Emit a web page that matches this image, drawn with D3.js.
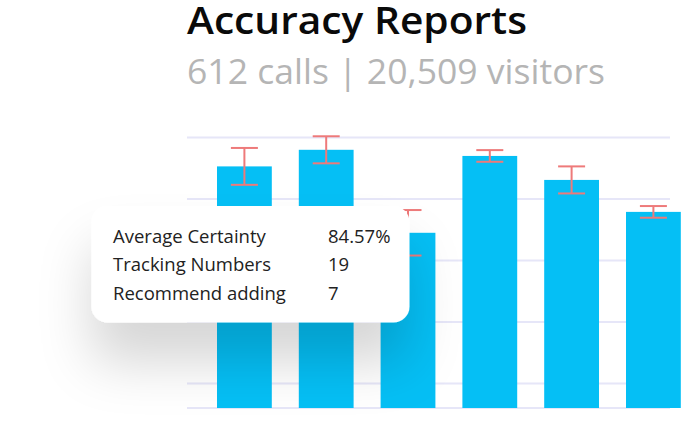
<!DOCTYPE html>
<html>
<head>
<meta charset="utf-8">
<script src="https://cdn.jsdelivr.net/npm/d3@7"></script>
<style>
  html, body { margin: 0; padding: 0; background: #ffffff; }
  svg { display: block; }
  text { font-family: "Open Sans", sans-serif; }
</style>
</head>
<body>
<svg id="chart" width="682" height="445"></svg>
<script>
const title = "Accuracy Reports";
const subtitle = "612 calls | 20,509 visitors";
const categories = ["1", "2", "3", "4", "5", "6"];
const values = [95.3, 98.0, 84.5, 97.0, 93.1, 87.9];
const errors = [3.0, 2.2, 3.7, 0.95, 2.2, 0.95];
const gridTicks = [60, 70, 80, 90, 100];
const tooltipLabels = ["Average Certainty", "Tracking Numbers", "Recommend adding"];
const tooltipValues = ["84.57%", "19", "7"];

const svg = d3.select("#chart");

const defs = svg.append("defs");
const f = defs.append("filter").attr("id", "shadow")
  .attr("x", "-50%").attr("y", "-50%").attr("width", "200%").attr("height", "260%");
f.append("feDropShadow").attr("dx", 0).attr("dy", 40).attr("stdDeviation", 26)
  .attr("flood-color", "#000").attr("flood-opacity", 0.16);

const x = d3.scaleBand().domain(categories).range([190, 707.8]).paddingInner(0.33).paddingOuter(0.33);
const y = d3.scaleLinear().domain([56, 100]).range([408, 137.5]);

// gridlines
const gx0 = 187, gx1 = 670;
svg.append("g").selectAll("line").data(gridTicks.concat([56])).join("line")
  .attr("x1", gx0).attr("x2", gx1)
  .attr("y1", d => y(d)).attr("y2", d => y(d))
  .attr("stroke", "#e6e6f8").attr("stroke-width", 2);

// bars
svg.append("g").selectAll("rect").data(values).join("rect")
  .attr("x", (d, i) => x(categories[i]))
  .attr("width", x.bandwidth())
  .attr("y", d => y(d))
  .attr("height", d => y(56) - y(d))
  .attr("fill", "#05bff5");

// error bars
const eg = svg.append("g").attr("stroke", "#ee7a7a").attr("stroke-width", 2).attr("fill", "none");
const capW = 27;
values.forEach((v, i) => {
  const cx = x(categories[i]) + x.bandwidth() / 2;
  const yt = y(v + errors[i]), yb = y(v - errors[i]);
  eg.append("line").attr("x1", cx).attr("x2", cx).attr("y1", yt).attr("y2", yb);
  eg.append("line").attr("x1", cx - capW / 2).attr("x2", cx + capW / 2).attr("y1", yt).attr("y2", yt);
  eg.append("line").attr("x1", cx - capW / 2).attr("x2", cx + capW / 2).attr("y1", yb).attr("y2", yb);
});

// title
svg.append("text").attr("x", 187).attr("y", 34)
  .attr("font-size", 37).attr("font-weight", 600).attr("fill", "#0a0a0a")
  .attr("textLength", 340).attr("lengthAdjust", "spacingAndGlyphs").text(title);
svg.append("text").attr("x", 187).attr("y", 83.5)
  .attr("font-size", 35).attr("font-weight", 400).attr("fill", "#b5b5b5")
  .attr("textLength", 418).attr("lengthAdjust", "spacingAndGlyphs").text(subtitle);

// tooltip
const tip = svg.append("g");
tip.append("rect").attr("x", 91.5).attr("y", 206).attr("width", 318).attr("height", 116.5)
  .attr("rx", 16).attr("fill", "#ffffff").attr("filter", "url(#shadow)");
tooltipLabels.forEach((t, i) => {
  tip.append("text").attr("x", 113).attr("y", 242.5 + i * 28.5)
    .attr("font-size", 18.5).attr("fill", "#222").text(t);
  tip.append("text").attr("x", 328).attr("y", 242.5 + i * 28.5)
    .attr("font-size", 18.5).attr("fill", "#222").text(tooltipValues[i]);
});
</script>
</body>
</html>
